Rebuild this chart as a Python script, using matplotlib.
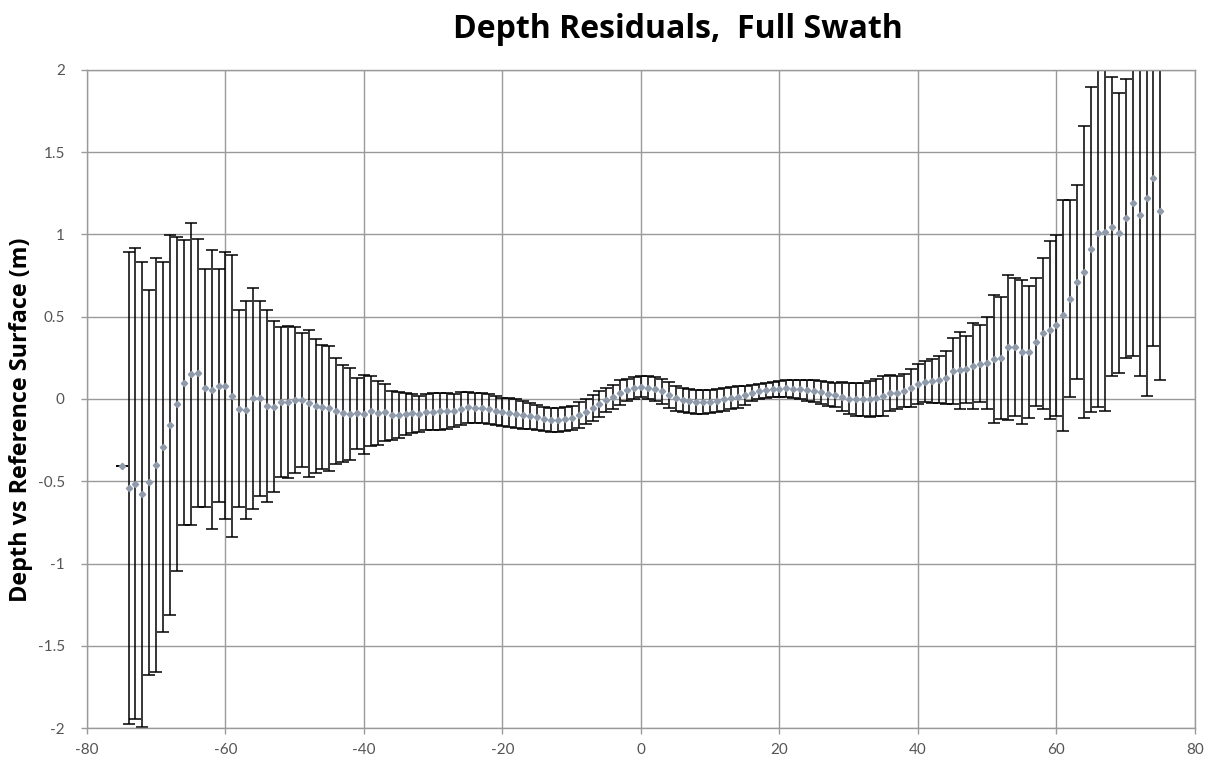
import matplotlib
matplotlib.use("Agg")
import matplotlib.pyplot as plt

# beam angle (deg) and per-angle depth residual statistics (m)
angles = list(range(-75, 76))

mean_residual = [
  -0.41, -0.54, -0.515, -0.58, -0.505, -0.40, -0.29, -0.16, -0.03, 0.10,
  0.15, 0.16, 0.067, 0.057, 0.082, 0.082, 0.019, -0.059, -0.065, 0.004,
  0.004, -0.044, -0.048, -0.017, -0.017, -0.007, -0.008, -0.027, -0.042, -0.05,
  -0.057, -0.072, -0.088, -0.091, -0.088, -0.093, -0.073, -0.085, -0.082, -0.10,
  -0.096, -0.091, -0.088, -0.091, -0.08, -0.078, -0.076, -0.073, -0.07, -0.06,
  -0.05, -0.053, -0.055, -0.062, -0.071, -0.08, -0.084, -0.089, -0.098, -0.105,
  -0.112, -0.121, -0.127, -0.127, -0.123, -0.115, -0.097, -0.077, -0.053, -0.031,
  -0.007, 0.013, 0.039, 0.054, 0.066, 0.074, 0.068, 0.061, 0.046, 0.023,
  0.005, -0.007, -0.013, -0.018, -0.018, -0.016, -0.01, -0.002, 0.005, 0.01,
  0.022, 0.038, 0.046, 0.052, 0.058, 0.061, 0.064, 0.061, 0.059, 0.054,
  0.049, 0.041, 0.033, 0.025, 0.015, 0.003, -0.002, -0.003, 0.0, 0.008,
  0.018, 0.037, 0.039, 0.05, 0.065, 0.09, 0.105, 0.11, 0.118, 0.13,
  0.17, 0.175, 0.18, 0.2, 0.215, 0.22, 0.244, 0.25, 0.315, 0.315,
  0.285, 0.285, 0.346, 0.40, 0.421, 0.447, 0.508, 0.61, 0.711, 0.772,
  0.909, 1.01, 1.016, 1.047, 1.01, 1.098, 1.193, 1.118, 1.22, 1.341,
  1.144,
]

std_residual = [
  0.0, 1.436, 1.43, 1.415, 1.17, 1.26, 1.125, 1.155, 1.017, 0.868,
  0.918, 0.815, 0.723, 0.85, 0.708, 0.813, 0.855, 0.598, 0.662, 0.671,
  0.593, 0.583, 0.52, 0.455, 0.461, 0.445, 0.408, 0.447, 0.405, 0.376,
  0.379, 0.323, 0.297, 0.28, 0.215, 0.241, 0.21, 0.192, 0.174, 0.147,
  0.141, 0.13, 0.119, 0.109, 0.11, 0.113, 0.111, 0.108, 0.10, 0.10,
  0.095, 0.092, 0.09, 0.093, 0.089, 0.087, 0.088, 0.088, 0.085, 0.078,
  0.078, 0.074, 0.072, 0.072, 0.072, 0.075, 0.077, 0.077, 0.08, 0.078,
  0.075, 0.075, 0.074, 0.069, 0.067, 0.064, 0.069, 0.072, 0.077, 0.079,
  0.077, 0.075, 0.075, 0.074, 0.074, 0.072, 0.072, 0.07, 0.067, 0.066,
  0.058, 0.048, 0.046, 0.048, 0.048, 0.05, 0.053, 0.057, 0.058, 0.064,
  0.069, 0.07, 0.073, 0.075, 0.086, 0.094, 0.099, 0.103, 0.111, 0.113,
  0.119, 0.108, 0.099, 0.10, 0.115, 0.12, 0.125, 0.135, 0.142, 0.16,
  0.20, 0.235, 0.205, 0.26, 0.235, 0.28, 0.39, 0.37, 0.44, 0.42,
  0.44, 0.40, 0.39, 0.46, 0.54, 0.55, 0.70, 0.60, 0.59, 0.89,
  0.99, 1.06, 1.09, 0.91, 0.85, 0.85, 0.93, 0.98, 1.2, 1.02,
  1.03,
]

x_ticks = [-80, -60, -40, -20, 0, 20, 40, 60, 80]
y_ticks = [-2, -1.5, -1, -0.5, 0, 0.5, 1, 1.5, 2]
y_tick_labels = ["-2", "-1.5", "-1", "-0.5", "0", "0.5", "1", "1.5", "2"]

plt.rcParams["font.family"] = ["Lato", "DejaVu Sans"]

fig = plt.figure(figsize=(12.1, 7.69), dpi=100)
ax = fig.add_axes([0.0719, 0.0533, 0.9157, 0.8557])

# error bars first, then the mean markers on top
ax.errorbar(angles, mean_residual, yerr=std_residual, fmt="none",
            ecolor="black", elinewidth=1.1, capsize=4.5, capthick=1.1,
            zorder=2)
ax.plot(angles, mean_residual, linestyle="none", marker="D",
        markersize=3.2, color="#8f9aab", zorder=3)

ax.set_xlim(-80, 80)
ax.set_ylim(-2, 2)
ax.set_xticks(x_ticks)
ax.set_xticklabels([str(t) for t in x_ticks])
ax.set_yticks(y_ticks)
ax.set_yticklabels(y_tick_labels)

ax.grid(True, color="#9a9a9a", linewidth=1.0)
ax.set_axisbelow(True)
for spine in ax.spines.values():
  spine.set_color("#9a9a9a")
  spine.set_linewidth(1.0)

ax.tick_params(axis="both", colors="#9a9a9a", labelcolor="#555555",
               labelsize=11, length=4, width=1.0)
ax.tick_params(axis="x", pad=7)
ax.tick_params(axis="y", pad=12)

ax.set_ylabel("Depth vs Reference Surface (m)", fontsize=16.8,
              fontweight="bold", color="black", family="Open Sans")
ax.yaxis.set_label_coords(-0.049, 0.468)

fig.text(0.56, 0.962, "Depth Residuals,  Full Swath", ha="center",
         va="center", fontsize=23, fontweight="bold", color="black",
         family="Open Sans")

fig.savefig("out.png", dpi=100, facecolor="white")
